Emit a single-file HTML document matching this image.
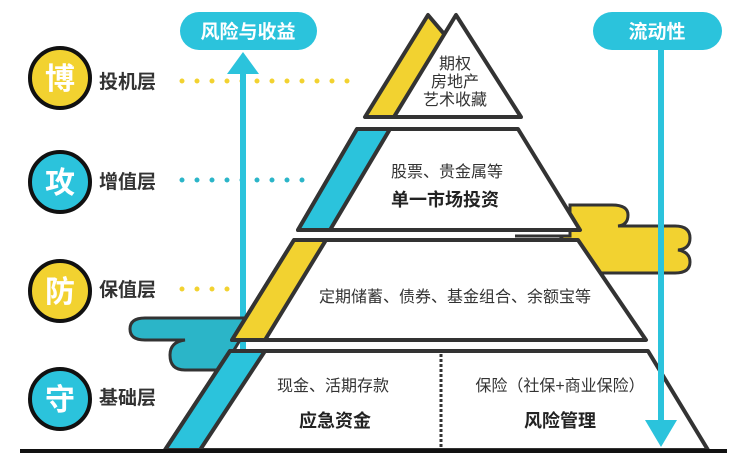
<!DOCTYPE html>
<html><head><meta charset="utf-8"><style>
html,body{margin:0;padding:0;background:#fff;}
svg{display:block;}
text{font-family:"Liberation Sans","Noto Sans CJK SC",sans-serif;}
</style></head><body>
<svg width="749" height="466" viewBox="0 0 749 466" xmlns="http://www.w3.org/2000/svg">
<rect width="749" height="466" fill="#fff"/>
<!-- dots -->
<line x1="182" y1="81" x2="355" y2="81" stroke="#f2d230" stroke-width="5" stroke-linecap="round" stroke-dasharray="0,15"/>
<line x1="182" y1="180" x2="308" y2="180" stroke="#2bb5c8" stroke-width="5" stroke-linecap="round" stroke-dasharray="0,15"/>
<line x1="182" y1="289" x2="230" y2="289" stroke="#f2d230" stroke-width="5" stroke-linecap="round" stroke-dasharray="0,15"/>
<!-- up arrow (behind pyramid) -->
<rect x="240" y="70" width="6" height="380" fill="#2bc3dc"/>
<polygon points="243,52 227,74 259,74" fill="#2bc3dc"/>
<rect x="180" y="12" width="137" height="38" rx="19" fill="#2bc3dc"/>
<text x="248" y="38" font-size="19" font-weight="bold" fill="#fff" text-anchor="middle">风险与收益</text>
<!-- clouds -->
<path d="M515,236 L570,236 L570,205 L612,205 Q628,205 628,215 Q628,225 618,226 L675,226 Q690,226 690,238 Q690,249 678,250 Q690,252 690,262 Q690,273 675,273 L590,273 L560,236 Z" fill="#f2d230" stroke="#333" stroke-width="3"/>
<path d="M245,318 L145,318 Q130,318 130,329 Q130,340 145,340 L185,340 Q170,342 170,355 Q170,370 185,370 L222,370 L240,340 Z" fill="#2bb5c8" stroke="#333" stroke-width="3"/>
<!-- tier 1 -->
<polygon points="428,15 365,117 394,117 445,35" fill="#f2d230" stroke="#333" stroke-width="4" stroke-linejoin="round"/>
<polygon points="456,15 394,117 521,117" fill="#fff" stroke="#333" stroke-width="4" stroke-linejoin="round"/>
<!-- tier 2 -->
<polygon points="357,129 518,129 580,230 298,230" fill="#fff" stroke="#333" stroke-width="4" stroke-linejoin="round"/>
<polygon points="357,129 390,129 330,230 298,230" fill="#2bc3dc" stroke="#333" stroke-width="4" stroke-linejoin="round"/>
<!-- tier 3 -->
<polygon points="294,240 578,240 646,340 232,340" fill="#fff" stroke="#333" stroke-width="4" stroke-linejoin="round"/>
<polygon points="294,240 326,240 265,340 232,340" fill="#f2d230" stroke="#333" stroke-width="4" stroke-linejoin="round"/>
<!-- tier 4 -->
<polygon points="230,351 648,351 708,450 165,450" fill="#fff" stroke="#333" stroke-width="4" stroke-linejoin="round"/>
<polygon points="230,351 265,351 200,450 165,450" fill="#2bc3dc" stroke="#333" stroke-width="4" stroke-linejoin="round"/>
<line x1="441" y1="354" x2="441" y2="448" stroke="#333" stroke-width="3" stroke-dasharray="3,2"/>
<!-- baseline -->
<rect x="20" y="449" width="707" height="4" fill="#111"/>
<!-- down arrow -->
<rect x="658" y="45" width="6" height="380" fill="#2bc3dc"/>
<polygon points="645,420 677,420 661,447" fill="#2bc3dc"/>
<rect x="593" y="12" width="129" height="38" rx="19" fill="#2bc3dc"/>
<text x="657" y="38" font-size="19" font-weight="bold" fill="#fff" text-anchor="middle">流动性</text>
<!-- circles -->
<g stroke="#111" stroke-width="4">
<circle cx="60" cy="78" r="30" fill="#f2d230"/>
<circle cx="60" cy="182" r="30" fill="#2bc3dc"/>
<circle cx="60" cy="291" r="30" fill="#f2d230"/>
<circle cx="60" cy="399" r="30" fill="#2bc3dc"/>
</g>
<g font-size="30" font-weight="bold" fill="#fff" text-anchor="middle">
<text x="60" y="89">博</text><text x="60" y="193">攻</text><text x="60" y="302">防</text><text x="60" y="410">守</text>
</g>
<g font-size="19" font-weight="bold" fill="#333">
<text x="99" y="88">投机层</text><text x="99" y="188">增值层</text><text x="99" y="296">保值层</text><text x="99" y="404">基础层</text>
</g>
<!-- tier texts -->
<g font-size="16" fill="#333" text-anchor="middle">
<text x="455" y="69">期权</text><text x="455" y="87">房地产</text><text x="455" y="105">艺术收藏</text>
<text x="447" y="177">股票、贵金属等</text>
<text x="455" y="302">定期储蓄、债券、基金组合、余额宝等</text>
<text x="333" y="391">现金、活期存款</text>
<text x="560" y="391">保险（社保+商业保险）</text>
</g>
<g font-size="18" font-weight="bold" fill="#222" text-anchor="middle">
<text x="445" y="206">单一市场投资</text>
<text x="335" y="427">应急资金</text>
<text x="560" y="427">风险管理</text>
</g>
</svg>
</body></html>
